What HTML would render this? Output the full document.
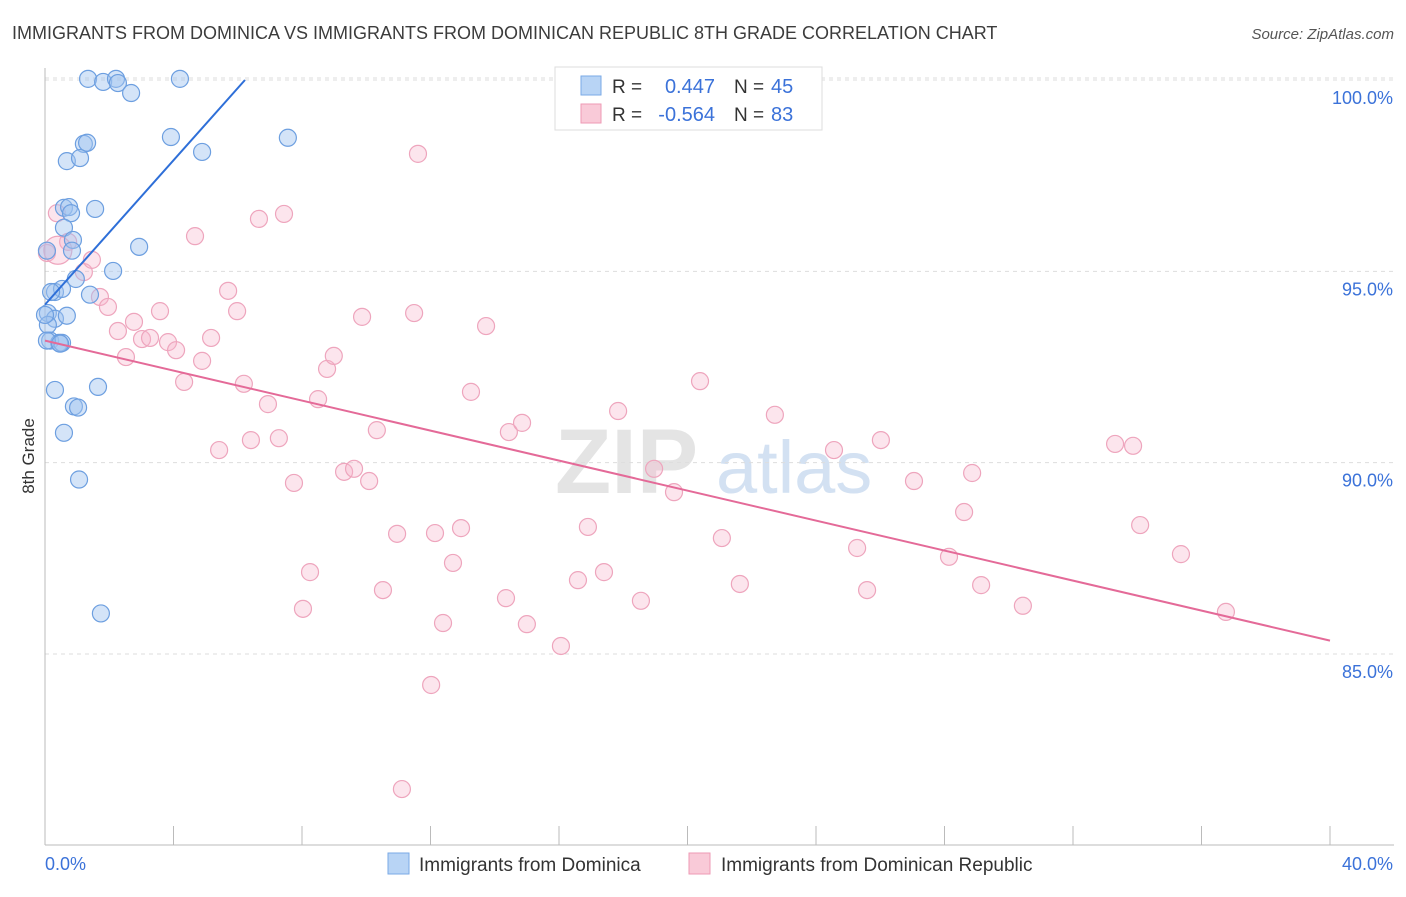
<!DOCTYPE html>
<html><head><meta charset="utf-8">
<style>
body{margin:0;background:#fff;font-family:"Liberation Sans",sans-serif;}
svg text{font-family:"Liberation Sans",sans-serif;}
</style></head>
<body>
<svg id="chart" width="1406" height="892" viewBox="0 0 1406 892" xmlns="http://www.w3.org/2000/svg">
<text x="12" y="39" font-size="18" fill="#3c3c3c">IMMIGRANTS FROM DOMINICA VS IMMIGRANTS FROM DOMINICAN REPUBLIC 8TH GRADE CORRELATION CHART</text>
<text x="1394" y="39" font-size="15" fill="#555" text-anchor="end" font-style="italic">Source: ZipAtlas.com</text>
<g>
<text x="555" y="493" font-size="92" fill="#e4e4e4" font-family="Liberation Serif" font-weight="bold">ZIP</text>
<text x="716" y="493" font-size="74" fill="#d3e1f2">atlas</text>
</g>
<g id="grid"></g>
<g id="axes"></g>
<g id="points"></g>
<g id="lines"></g>
<text transform="translate(34,456) rotate(-90)" font-size="17" fill="#333" text-anchor="middle">8th Grade</text>
<g>
<rect x="555" y="67" width="267" height="63" fill="#fff" stroke="#ddd"/>
<rect x="581" y="76" width="20" height="19" fill="#b8d4f5" stroke="#7aaae6"/>
<rect x="581" y="104" width="20" height="19" fill="#f9cad8" stroke="#ee9ab4"/>
<text x="612" y="93" font-size="19" fill="#333">R =</text>
<text x="715" y="93" font-size="20" fill="#3b72d9" text-anchor="end">0.447</text>
<text x="734" y="93" font-size="19" fill="#333">N =</text>
<text x="771" y="93" font-size="20" fill="#3b72d9">45</text>
<text x="612" y="121" font-size="19" fill="#333">R =</text>
<text x="715" y="121" font-size="20" fill="#3b72d9" text-anchor="end">-0.564</text>
<text x="734" y="121" font-size="19" fill="#333">N =</text>
<text x="771" y="121" font-size="20" fill="#3b72d9">83</text>
</g>
<g>
<rect x="388" y="853" width="21" height="21" fill="#b8d4f5" stroke="#7aaae6"/>
<text x="419" y="871" font-size="19" fill="#333">Immigrants from Dominica</text>
<rect x="689" y="853" width="21" height="21" fill="#f9cad8" stroke="#ee9ab4"/>
<text x="721" y="871" font-size="19" fill="#333">Immigrants from Dominican Republic</text>
</g>
</svg>
<script>
const yTicks=[100,95,90,85];
const yTickLabels=["100.0%","95.0%","90.0%","85.0%"];
const xTickLabels=["0.0%","40.0%"];
const blueX=[1.34,1.81,2.21,2.27,2.68,4.20,3.92,4.89,7.56,1.21,1.31,0.68,1.09,0.59,0.75,0.81,1.56,0.59,0.87,0.06,0.84,2.93,2.12,0.96,0.31,0.53,1.40,0.09,0.31,0.68,0.09,0.16,0.44,0.53,0.31,1.65,0.90,1.03,0.59,1.06,1.74,0.06,0.19,0.00,0.47];
const blueY=[100.03,99.95,100.03,99.92,99.66,100.03,98.51,98.12,98.49,98.33,98.36,97.88,97.96,96.66,96.68,96.52,96.63,96.14,95.82,95.54,95.54,95.64,95.01,94.80,94.46,94.54,94.39,93.91,93.76,93.84,93.60,93.19,93.13,93.13,91.90,91.98,91.47,91.44,90.78,89.56,86.06,93.19,94.46,93.86,93.11];
const pinkX=[0.37,0.72,0.06,1.21,1.46,1.71,1.96,2.27,2.52,2.77,3.02,3.27,3.58,3.83,4.08,4.33,4.67,4.89,5.17,5.42,5.70,5.98,6.19,6.41,6.66,6.94,7.28,7.44,7.75,8.03,8.25,8.50,8.78,8.99,9.31,9.62,9.87,10.09,10.33,10.52,10.96,11.49,11.61,12.02,12.14,12.39,12.70,12.95,13.26,13.73,14.35,14.44,14.85,15.00,16.06,16.59,16.90,17.40,17.84,18.55,18.96,19.58,20.39,21.07,21.63,22.72,24.56,25.28,25.59,26.02,27.05,28.14,28.61,28.86,29.14,30.44,33.31,33.87,34.09,35.36,36.76,11.11,0.40];
const pinkY=[96.52,95.77,95.48,94.98,95.30,94.33,94.07,93.44,92.76,93.68,93.23,93.26,93.96,93.15,92.94,92.11,95.92,92.66,93.26,90.33,94.49,93.96,92.06,90.59,96.37,91.53,90.64,96.50,89.47,86.18,87.14,91.66,92.45,92.79,89.76,89.84,93.81,89.52,90.85,86.67,88.14,93.91,98.07,84.19,88.16,85.81,87.38,88.29,91.85,93.57,86.46,90.80,91.04,85.78,85.21,86.93,88.32,87.14,91.35,86.39,89.84,89.23,92.13,88.03,86.83,91.25,90.33,87.77,86.67,90.59,89.52,87.54,88.71,89.73,86.80,86.26,90.49,90.44,88.37,87.61,86.10,81.47,95.55];
const blueFit=[94.13,0.943];
const pinkFit=[93.19,-0.196];
const NS="http://www.w3.org/2000/svg";
const X0=45,X1=1330,YTOP=80,YB=845;
function sx(v){return X0+(X1-X0)*v/40;}
function sy(v){return YTOP+(100-v)*(654-80)/15;}
function mk(tag,attrs,parent){const e=document.createElementNS(NS,tag);for(const k in attrs)e.setAttribute(k,attrs[k]);document.getElementById(parent).appendChild(e);return e;}
let g=mk('line',{x1:X0,x2:1394,y1:78,y2:78,stroke:'#ddd','stroke-dasharray':'4,4'},'grid');


yTicks.forEach((t,i)=>{
 const l=mk('line',{x1:X0,x2:1394,y1:sy(t),y2:sy(t),stroke:'#ddd','stroke-dasharray':'4,4'},'grid');
 
 
 const tx=mk('text',{x:1393,y:sy(t)+24,'font-size':18,fill:'#3b72d9','text-anchor':'end'},'axes');
 tx.textContent=yTickLabels[i];
 
 
});
let ax=mk('line',{x1:X0,x2:X0,y1:68,y2:YB,stroke:'#bbb'},'axes');


ax=mk('line',{x1:X0,x2:1394,y1:YB,y2:YB,stroke:'#bbb'},'axes');


for(let i=0;i<=10;i++){
 const t=mk('line',{x1:sx(i*4),x2:sx(i*4),y1:826,y2:YB,stroke:'#bbb'},'axes');
 
 
}
let xl=mk('text',{x:45,y:870,'font-size':18,fill:'#3b72d9'},'axes');xl.textContent=xTickLabels[0];


xl=mk('text',{x:1393,y:870,'font-size':18,fill:'#3b72d9','text-anchor':'end'},'axes');xl.textContent=xTickLabels[1];


pinkX.forEach((x,i)=>{
 const c=mk('circle',{cx:sx(x),cy:sy(pinkY[i]),r:(i===82?14:8.5),fill:'rgba(246,180,202,0.35)',stroke:'#eea5bd','stroke-width':1.2},'points');
 
 
});
blueX.forEach((x,i)=>{
 const c=mk('circle',{cx:sx(x),cy:sy(blueY[i]),r:8.5,fill:'rgba(160,196,240,0.45)',stroke:'#6d9fe0','stroke-width':1.2},'points');
 
 
});
const bxEnd=(100-blueFit[0])/blueFit[1];
let ln=mk('line',{x1:sx(0),y1:sy(blueFit[0]),x2:sx(bxEnd),y2:sy(100),stroke:'#2e6fd8','stroke-width':2},'lines');


ln=mk('line',{x1:sx(0),y1:sy(pinkFit[0]),x2:sx(40),y2:sy(pinkFit[0]+pinkFit[1]*40),stroke:'#e46a98','stroke-width':2},'lines');


</script>
</body></html>
